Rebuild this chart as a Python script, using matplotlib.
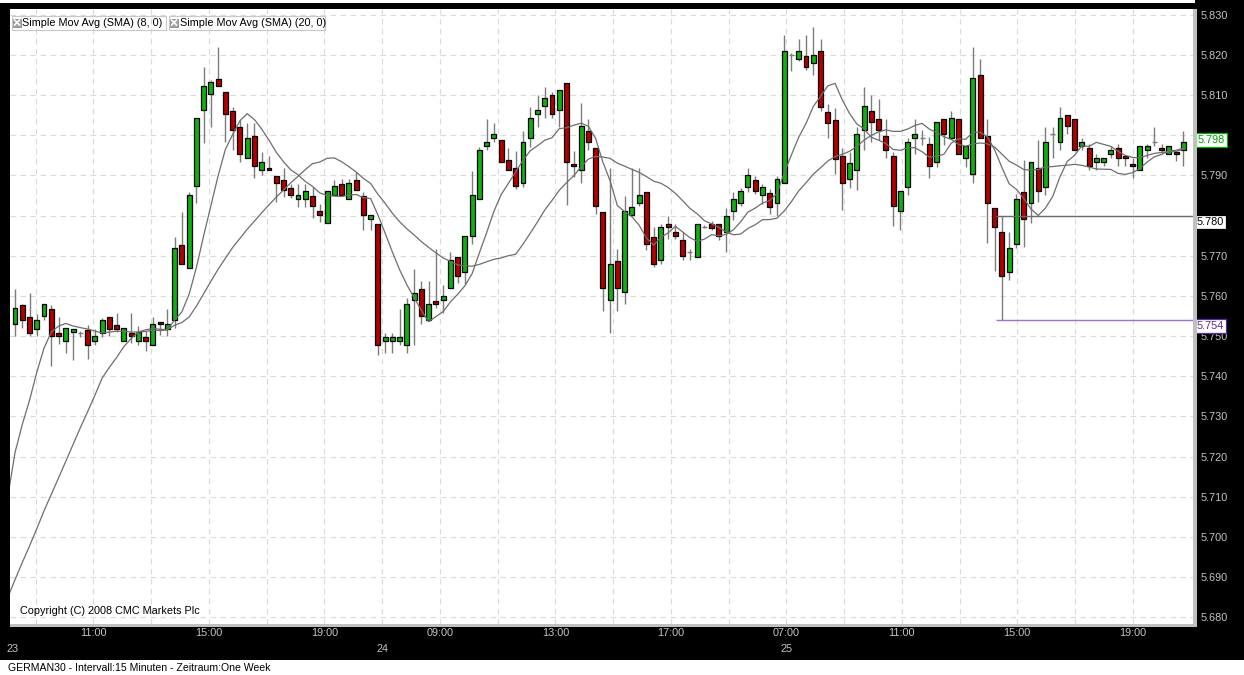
import numpy as np
import pandas as pd
import matplotlib
matplotlib.use("Agg")
import matplotlib.pyplot as plt
from matplotlib.patches import Rectangle
from matplotlib.lines import Line2D
from matplotlib.transforms import blended_transform_factory

plt.rcParams['font.family'] = ['Liberation Sans', 'DejaVu Sans']

# ── data: 15-minute candles, GERMAN30, 23.-25. ─────────────────────
OPEN = [5.7529, 5.7577, 5.7548, 5.7518, 5.7549, 5.7567, 5.7507, 5.7489, 5.7509, 5.7507,
        5.7516, 5.7489, 5.7508, 5.7548, 5.7527, 5.7489, 5.7508, 5.7489, 5.7498, 5.7479,
        5.7536, 5.7518, 5.7539, 5.7727, 5.7669, 5.7873, 5.8063, 5.8102, 5.8139, 5.8108,
        5.8059, 5.8019, 5.7942, 5.7998, 5.7913, 5.7919, 5.7899, 5.7889, 5.7869, 5.7842,
        5.7842, 5.7849, 5.7810, 5.7782, 5.7852, 5.7879, 5.7842, 5.7889, 5.7849, 5.7792,
        5.7779, 5.7489, 5.7489, 5.7489, 5.7479, 5.7589, 5.7617, 5.7539, 5.7587, 5.7589,
        5.7619, 5.7696, 5.7660, 5.7750, 5.7842, 5.7972, 5.7992, 5.7989, 5.7939, 5.7919,
        5.7882, 5.7992, 5.8052, 5.8073, 5.8099, 5.8062, 5.8129, 5.7929, 5.7913, 5.8009,
        5.7969, 5.7809, 5.7589, 5.7688, 5.7609, 5.7802, 5.7832, 5.7859, 5.7746, 5.7689,
        5.7779, 5.7759, 5.7738, 5.7709, 5.7698, 5.7771, 5.7778, 5.7778, 5.7759, 5.7811,
        5.7830, 5.7870, 5.7888, 5.7850, 5.7857, 5.7830, 5.7880, 5.8200, 5.8190, 5.8198,
        5.8180, 5.8208, 5.8058, 5.8038, 5.7948, 5.7890, 5.7913, 5.8013, 5.8059, 5.8039,
        5.7999, 5.7949, 5.7812, 5.7872, 5.7992, 5.7992, 5.7979, 5.7932, 5.8039, 5.7992,
        5.8039, 5.7942, 5.7902, 5.8149, 5.7999, 5.7819, 5.7759, 5.7659, 5.7729, 5.7859,
        5.7832, 5.7919, 5.7872, 5.8002, 5.7982, 5.8049, 5.8039, 5.7972, 5.7969, 5.7932,
        5.7932, 5.7952, 5.7969, 5.7949, 5.7929, 5.7912, 5.7962, 5.7982, 5.7969, 5.7952,
        5.7959, 5.7962]
HIGH = [5.7617, 5.7580, 5.7607, 5.7556, 5.7580, 5.7577, 5.7548, 5.7519, 5.7518, 5.7513,
        5.7527, 5.7517, 5.7546, 5.7548, 5.7558, 5.7519, 5.7558, 5.7525, 5.7513, 5.7548,
        5.7536, 5.7567, 5.7746, 5.7808, 5.7858, 5.8042, 5.8169, 5.8138, 5.8219, 5.8108,
        5.8069, 5.8038, 5.8029, 5.8029, 5.7958, 5.7948, 5.7899, 5.7919, 5.7879, 5.7879,
        5.7879, 5.7871, 5.7829, 5.7862, 5.7889, 5.7892, 5.7892, 5.7908, 5.7858, 5.7802,
        5.7779, 5.7508, 5.7507, 5.7567, 5.7596, 5.7667, 5.7638, 5.7638, 5.7717, 5.7627,
        5.7708, 5.7696, 5.7749, 5.7910, 5.7971, 5.8039, 5.8029, 5.7989, 5.7969, 5.7960,
        5.8011, 5.8069, 5.8100, 5.8119, 5.8108, 5.8112, 5.8129, 5.7960, 5.8079, 5.8039,
        5.7969, 5.7809, 5.7919, 5.7717, 5.7849, 5.7919, 5.7919, 5.7859, 5.7771, 5.7779,
        5.7800, 5.7779, 5.7758, 5.7717, 5.7780, 5.7776, 5.7786, 5.7778, 5.7819, 5.7858,
        5.7869, 5.7919, 5.7898, 5.7878, 5.7865, 5.7898, 5.8248, 5.8203, 5.8238, 5.8248,
        5.8268, 5.8238, 5.8078, 5.8068, 5.7968, 5.7959, 5.8021, 5.8119, 5.8100, 5.8089,
        5.8039, 5.7958, 5.7862, 5.7992, 5.8039, 5.8013, 5.7996, 5.8032, 5.8039, 5.8061,
        5.8039, 5.7972, 5.8219, 5.8189, 5.8039, 5.7819, 5.7799, 5.7759, 5.7854, 5.7939,
        5.7932, 5.7989, 5.8019, 5.8019, 5.8069, 5.8049, 5.8039, 5.7992, 5.7979, 5.7952,
        5.7942, 5.7972, 5.7979, 5.7949, 5.7942, 5.7972, 5.7979, 5.8019, 5.7979, 5.7972,
        5.7959, 5.8009]
LOW = [5.7500, 5.7521, 5.7500, 5.7500, 5.7539, 5.7425, 5.7481, 5.7458, 5.7440, 5.7498,
       5.7442, 5.7479, 5.7498, 5.7500, 5.7510, 5.7489, 5.7483, 5.7479, 5.7463, 5.7479,
       5.7503, 5.7500, 5.7521, 5.7679, 5.7669, 5.7831, 5.7981, 5.8021, 5.8123, 5.7983,
       5.7964, 5.7933, 5.7942, 5.7894, 5.7900, 5.7913, 5.7833, 5.7846, 5.7843, 5.7821,
       5.7821, 5.7794, 5.7783, 5.7782, 5.7852, 5.7852, 5.7842, 5.7863, 5.7764, 5.7763,
       5.7453, 5.7458, 5.7458, 5.7479, 5.7458, 5.7479, 5.7531, 5.7537, 5.7571, 5.7558,
       5.7619, 5.7632, 5.7629, 5.7729, 5.7842, 5.7963, 5.7982, 5.7932, 5.7913, 5.7867,
       5.7871, 5.7971, 5.8021, 5.8042, 5.8042, 5.8021, 5.7825, 5.7896, 5.7882, 5.7963,
       5.7804, 5.7563, 5.7508, 5.7563, 5.7579, 5.7802, 5.7823, 5.7713, 5.7673, 5.7679,
       5.7742, 5.7742, 5.7689, 5.7689, 5.7698, 5.7769, 5.7763, 5.7740, 5.7708, 5.7790,
       5.7823, 5.7859, 5.7853, 5.7829, 5.7803, 5.7800, 5.7880, 5.8159, 5.8184, 5.8161,
       5.8150, 5.8061, 5.7993, 5.7903, 5.7813, 5.7869, 5.7863, 5.7963, 5.7983, 5.7988,
       5.7942, 5.7773, 5.7763, 5.7852, 5.7953, 5.7975, 5.7894, 5.7921, 5.7975, 5.7992,
       5.7952, 5.7921, 5.7881, 5.7992, 5.7731, 5.7663, 5.7540, 5.7639, 5.7719, 5.7721,
       5.7781, 5.7833, 5.7852, 5.7942, 5.7963, 5.8002, 5.7962, 5.7962, 5.7914, 5.7912,
       5.7922, 5.7942, 5.7922, 5.7922, 5.7894, 5.7912, 5.7942, 5.7972, 5.7952, 5.7952,
       5.7935, 5.7922]
CLOSE = [5.7569, 5.7539, 5.7508, 5.7539, 5.7579, 5.7500, 5.7499, 5.7519, 5.7518, 5.7507,
         5.7479, 5.7500, 5.7539, 5.7518, 5.7518, 5.7519, 5.7499, 5.7510, 5.7489, 5.7529,
         5.7529, 5.7529, 5.7719, 5.7679, 5.7852, 5.8042, 5.8121, 5.8132, 5.8123, 5.8052,
         5.8013, 5.7952, 5.7992, 5.7923, 5.7932, 5.7913, 5.7882, 5.7863, 5.7852, 5.7852,
         5.7862, 5.7823, 5.7802, 5.7862, 5.7873, 5.7852, 5.7881, 5.7863, 5.7802, 5.7802,
         5.7479, 5.7498, 5.7498, 5.7498, 5.7579, 5.7608, 5.7549, 5.7579, 5.7579, 5.7599,
         5.7689, 5.7650, 5.7749, 5.7852, 5.7963, 5.7982, 5.8002, 5.7932, 5.7913, 5.7873,
         5.7982, 5.8042, 5.8062, 5.8092, 5.8052, 5.8112, 5.7932, 5.7923, 5.8022, 5.7982,
         5.7823, 5.7619, 5.7679, 5.7619, 5.7812, 5.7822, 5.7852, 5.7729, 5.7679, 5.7771,
         5.7771, 5.7749, 5.7699, 5.7709, 5.7780, 5.7771, 5.7769, 5.7748, 5.7800, 5.7840,
         5.7860, 5.7900, 5.7860, 5.7870, 5.7820, 5.7890, 5.8210, 5.8200, 5.8210, 5.8170,
         5.8200, 5.8070, 5.8030, 5.7940, 5.7880, 5.7930, 5.8002, 5.8072, 5.8032, 5.8013,
         5.7963, 5.7823, 5.7862, 5.7982, 5.8002, 5.7992, 5.7923, 5.8032, 5.8002, 5.8042,
         5.7952, 5.7972, 5.8142, 5.7992, 5.7832, 5.7772, 5.7649, 5.7719, 5.7842, 5.7792,
         5.7932, 5.7862, 5.7982, 5.8002, 5.8042, 5.8022, 5.7962, 5.7982, 5.7922, 5.7942,
         5.7942, 5.7962, 5.7942, 5.7942, 5.7922, 5.7972, 5.7972, 5.7982, 5.7962, 5.7972,
         5.7952, 5.7982]
# closes before the visible window (only feed the moving averages)
PRIOR_CLOSE = [5.6683, 5.6683, 5.6683, 5.6683, 5.6683, 5.6683, 5.6683, 5.6683, 5.6683,
               5.6683, 5.6683, 5.6683, 5.6683, 5.6979, 5.7028, 5.6979, 5.7099, 5.7180,
               5.7379, 5.7467]
SMA_PERIODS = [8, 20]

TIME_LABELS = ['', '11:00', '', '15:00', '', '19:00', '', '09:00', '', '13:00',
               '', '17:00', '', '07:00', '', '11:00', '', '15:00', '', '19:00']
DATE_LABELS = {0: '23', 6: '24', 13: '25'}   # grid index -> day
PRICE_TICKS = [5.680, 5.690, 5.700, 5.710, 5.720, 5.730, 5.740, 5.750,
               5.760, 5.770, 5.780, 5.790, 5.800, 5.810, 5.820, 5.830]
COVERED_TICKS = [5.780, 5.800]   # hidden behind the price markers
LAST_PRICE = 5.798
LEVEL_LINE = 5.780
LOW_LINE = 5.754

# ── layout (pixels of the 1244x675 picture) ────────────────────────
W, H = 1244, 675
PX_BAR = 7.257          # px per candle
X0 = 15.0               # px of first candle
GRID_PX0, GRID_STEP = 35.7, 57.74


def fx(px):
    return px / W


def fy(py):
    return 1 - py / H


def bar_pos(px):
    return (px - X0) / PX_BAR


GREEN, RED = '#10b010', '#b20000'
GREY_TXT = '#c4c4c4'

fig = plt.figure(figsize=(W / 100, H / 100), dpi=100, facecolor='black')
ax = fig.add_axes([fx(10), fy(624), fx(1193) - fx(10), fy(9) - fy(624)])
ax.set_facecolor('white')
for s in ax.spines.values():
    s.set_visible(False)

o = np.array(OPEN)
h = np.array(HIGH)
l = np.array(LOW)
c = np.array(CLOSE)
x = np.arange(len(c))

# wicks
ax.vlines(x, l, h, color='#7c7c7c', lw=1.0, zorder=2)
# bodies
doji = np.isclose(o, c)
body = ~doji
cols = np.where(c >= o, GREEN, RED)
ax.bar(x[body], np.abs(c - o)[body], bottom=np.minimum(o, c)[body], width=0.68,
       color=cols[body], edgecolor='black', lw=0.9, zorder=3)
ax.hlines(o[doji], x[doji] - 0.34, x[doji] + 0.34, color='#7c7c7c', lw=1.0, zorder=3)

# moving averages
allc = pd.Series(PRIOR_CLOSE + CLOSE)
xa = np.arange(-len(PRIOR_CLOSE), len(CLOSE))
for p in SMA_PERIODS:
    sma = allc.rolling(p).mean()
    ax.plot(xa, sma, color='#6e6e6e', lw=0.9, zorder=4)

# level lines
start = bar_pos(996)
ax.hlines(LEVEL_LINE, start, bar_pos(1195), color='#6a6a6a', lw=1.0, zorder=4)
ax.hlines(LOW_LINE, start, bar_pos(1195), color='#9b74cc', lw=1.0, zorder=4)

ax.set_xlim(bar_pos(10), bar_pos(1193))
ax.set_ylim(5.67838, 5.83137)

grid_x = [bar_pos(GRID_PX0 + k * GRID_STEP) for k in range(len(TIME_LABELS))]
ax.set_xticks(grid_x)
ax.set_xticklabels(TIME_LABELS)
ax.set_yticks(PRICE_TICKS)
ax.set_yticklabels(['' if any(np.isclose(v, COVERED_TICKS)) else f'{v:.3f}'
                    for v in PRICE_TICKS])
ax.yaxis.tick_right()
ax.tick_params(axis='x', length=0, pad=3, labelcolor=GREY_TXT, labelsize=7.8)
ax.tick_params(axis='y', length=0, pad=5.5, labelcolor=GREY_TXT, labelsize=7.8)
ax.grid(True, color='#dadada', lw=0.8, linestyle=(0, (5, 4)), zorder=0)
ax.set_axisbelow(True)

# date row
tr = blended_transform_factory(ax.transData, fig.transFigure)
for k, d in DATE_LABELS.items():
    xx = bar_pos(13) if k == 0 else grid_x[k]
    ax.text(xx, fy(649), d, transform=tr, ha='center', va='center',
            color=GREY_TXT, fontsize=7.8, clip_on=False)

# frame pieces
fig.patches.append(Rectangle((fx(1193), fy(627)), fx(4), fy(9) - fy(627),
                             transform=fig.transFigure, fc='#c0c0c0', ec='none'))
fig.patches.append(Rectangle((fx(10), fy(627)), fx(1187), fy(624) - fy(627),
                             transform=fig.transFigure, fc='#c0c0c0', ec='none'))
fig.patches.append(Rectangle((0, fy(3)), fx(1195), fy(0) - fy(3),
                             transform=fig.transFigure, fc='white', ec='none'))
fig.patches.append(Rectangle((0, 0), 1, fy(660), transform=fig.transFigure,
                             fc='white', ec='none'))

# legend boxes
for bx, bw, label in [(11.5, 154, 'Simple Mov Avg (SMA) (8, 0)'),
                      (168.5, 157, 'Simple Mov Avg (SMA) (20, 0)')]:
    fig.patches.append(Rectangle((fx(bx), fy(29.5)), fx(bw), fy(16) - fy(29.5),
                                 transform=fig.transFigure, fc='none', ec='#c8c8c8', lw=0.8))
    fig.patches.append(Rectangle((fx(bx + 1.5), fy(26.5)), fx(8), fy(18.5) - fy(26.5),
                                 transform=fig.transFigure, fc='#a4a4a4', ec='#8a8a8a', lw=0.6))
    for (a, b) in [((bx + 3, 25), (bx + 8, 20)), ((bx + 3, 20), (bx + 8, 25))]:
        fig.add_artist(Line2D([fx(a[0]), fx(b[0])], [fy(a[1]), fy(b[1])],
                              transform=fig.transFigure, color='white', lw=1.1))
    fig.text(fx(bx + 11), fy(22.5), label, ha='left', va='center',
             fontsize=7.8, color='black')

fig.text(fx(20), fy(611), 'Copyright (C) 2008 CMC Markets Plc', ha='left',
         va='center', fontsize=7.8, color='black')
fig.text(fx(8), fy(663), 'GERMAN30 - Intervall:15 Minuten - Zeitraum:One Week',
         ha='left', va='top', fontsize=7.6, color='black')

# price markers on the right axis
ty = blended_transform_factory(fig.transFigure, ax.transData)
ax.text(fx(1198), LAST_PRICE + 0.0008, f'{LAST_PRICE:.3f}', transform=ty, ha='left',
        va='center', fontsize=7.8, color='#00a000', clip_on=False, zorder=6,
        bbox=dict(boxstyle='square,pad=0.18', fc='white', ec='#00b000', lw=0.9))
ax.text(fx(1197), LEVEL_LINE - 0.0004, f'{LEVEL_LINE:.3f}', transform=ty, ha='left',
        va='top', fontsize=7.8, color='black', clip_on=False, zorder=6,
        bbox=dict(boxstyle='square,pad=0.18', fc='white', ec='black', lw=0.9))
ax.text(fx(1197), LOW_LINE - 0.0002, f'{LOW_LINE:.3f}', transform=ty, ha='left',
        va='top', fontsize=7.8, color='#5a2a9a', clip_on=False, zorder=6,
        bbox=dict(boxstyle='square,pad=0.18', fc='white', ec='#5a2a9a', lw=0.9))

fig.savefig('out.png', dpi=100, facecolor='black')
